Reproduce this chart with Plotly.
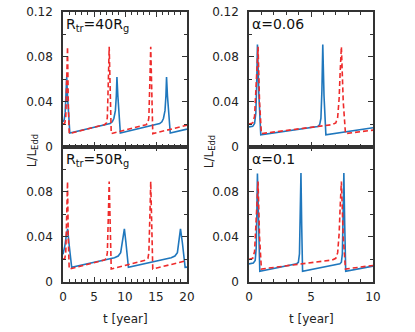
import plotly.graph_objects as go

# ---- data ----
# red dashed reference curve (same in all panels)
red_t = [0, 0.3, 0.45, 0.58, 0.73, 0.85, 1.0, 6.7, 7.0, 7.15, 7.27, 7.35, 7.45, 7.6, 7.78,
         13.4, 13.7, 13.85, 13.97, 14.05, 14.15, 14.3, 14.48, 20]
red_L = [0.020, 0.021, 0.027, 0.055, 0.089, 0.040, 0.0115, 0.0195, 0.021, 0.026, 0.043, 0.066, 0.089, 0.040, 0.0115,
         0.0195, 0.021, 0.026, 0.043, 0.066, 0.089, 0.040, 0.0115, 0.019]

# R_tr = 40 R_g
b40_t = [0, 0.2, 0.35, 0.5, 0.6, 0.7, 1.1, 7.6, 7.95, 8.2, 8.45, 8.6, 8.7, 8.85, 9.25,
         15.6, 15.95, 16.2, 16.45, 16.6, 16.7, 16.85, 17.3, 20]
b40_L = [0.022, 0.024, 0.030, 0.045, 0.062, 0.048, 0.012, 0.0205, 0.022, 0.025, 0.032, 0.045, 0.062, 0.045, 0.012,
         0.0205, 0.022, 0.025, 0.032, 0.045, 0.062, 0.045, 0.012, 0.0155]

# R_tr = 50 R_g
b50_t = [0, 0.3, 0.55, 0.75, 0.95, 1.4, 8.3, 8.9, 9.3, 9.6, 9.9, 10.15, 10.55,
         17.45, 18.05, 18.45, 18.7, 18.95, 19.25, 19.7, 20]
b50_L = [0.0245, 0.032, 0.042, 0.047, 0.035, 0.013, 0.0215, 0.023, 0.026, 0.035, 0.047, 0.035, 0.013,
         0.0215, 0.023, 0.026, 0.035, 0.047, 0.035, 0.013, 0.0132]

# alpha = 0.06
a06_t = [0, 0.3, 0.45, 0.55, 0.62, 0.68, 0.8, 0.95, 5.55, 5.7, 5.8, 5.88, 5.95, 6.05, 6.2, 10]
a06_L = [0.0175, 0.018, 0.0205, 0.030, 0.055, 0.091, 0.045, 0.0104, 0.0178, 0.0195, 0.025, 0.05, 0.091, 0.045, 0.0104, 0.0168]

# alpha = 0.1
a10_t = [0, 0.35, 0.5, 0.58, 0.63, 0.68, 0.78, 0.87, 3.85, 3.98, 4.07, 4.13, 4.19, 4.25, 4.32,
         7.33, 7.45, 7.53, 7.59, 7.65, 7.72, 7.8, 10]
a10_L = [0.016, 0.0168, 0.019, 0.03, 0.06, 0.096, 0.05, 0.0095, 0.0162, 0.0175, 0.025, 0.055, 0.0965, 0.05, 0.0095,
         0.0162, 0.0175, 0.025, 0.055, 0.0965, 0.05, 0.0095, 0.0141]

panel_labels = ["R<sub>tr</sub>=40R<sub>g</sub>", "α=0.06", "R<sub>tr</sub>=50R<sub>g</sub>", "α=0.1"]
y_ticks = [0, 0.04, 0.08, 0.12]
y_text_top = ["0", "0.04", "0.08", "0.12"]
y_text_bot = ["0", "0.04", "0.08", ""]

BLUE = "#1f77bd"
RED = "#ee2b2b"
FONT = "DejaVu Sans"
AX = "#333333"

fig = go.Figure()
panels = [
    (b40_t, b40_L, "x", "y"),
    (a06_t, a06_L, "x2", "y2"),
    (b50_t, b50_L, "x3", "y3"),
    (a10_t, a10_L, "x4", "y4"),
]
for bt, bL, xa, ya in panels:
    fig.add_trace(go.Scatter(x=bt, y=bL, mode="lines", xaxis=xa, yaxis=ya,
                             line=dict(color=BLUE, width=1.6), showlegend=False))
    fig.add_trace(go.Scatter(x=red_t, y=red_L, mode="lines", xaxis=xa, yaxis=ya,
                             line=dict(color=RED, width=1.6, dash="5px,3px"), showlegend=False))

def xax(rng, dom, anchor, labels, minor):
    return dict(range=rng, domain=dom, anchor=anchor, showline=True, linecolor=AX, linewidth=1.5,
                mirror="allticks", ticks="inside", ticklen=5, tickcolor=AX, tickwidth=1,
                dtick=5, tick0=0, showticklabels=labels, showgrid=False, zeroline=False,
                minor=dict(ticks="inside", ticklen=3, dtick=minor, tick0=0, tickcolor=AX, showgrid=False),
                ticklabelstandoff=3,
                tickfont=dict(family=FONT, size=12, color="#222"))

def yax(dom, anchor, text):
    return dict(range=[0, 0.12], domain=dom, anchor=anchor, showline=True, linecolor=AX, linewidth=1.5,
                mirror="allticks", ticks="inside", ticklen=5, tickcolor=AX, tickwidth=1,
                tickvals=y_ticks, ticktext=text, showgrid=False, zeroline=False,
                minor=dict(ticks="inside", ticklen=3, tickvals=[0.02, 0.06, 0.10], tickcolor=AX, showgrid=False),
                ticklabelstandoff=6,
                tickfont=dict(family=FONT, size=12, color="#222"))

XL = [0, 0.4]
XR = [0.6, 1.0]
YT = [0.5018, 1.0]
YB = [0.0, 0.5018]

fig.update_layout(
    width=415, height=332,
    margin=dict(l=63, r=42, t=5, b=50),
    paper_bgcolor="white", plot_bgcolor="white",
    font=dict(family=FONT, size=12, color="#222"),
    xaxis=xax([0, 20], XL, "y", False, 1),
    xaxis2=xax([0, 10], XR, "y2", False, 1),
    xaxis3=xax([0, 20], XL, "y3", True, 1),
    xaxis4=xax([0, 10], XR, "y4", True, 1),
    yaxis=yax(YT, "x", y_text_top),
    yaxis2=yax(YT, "x2", y_text_top),
    yaxis3=yax(YB, "x3", y_text_bot),
    yaxis4=yax(YB, "x4", y_text_bot),
)

# panel labels
for i, (lab, xa) in enumerate(zip(panel_labels, ["x", "x2", "x3", "x4"])):
    ya = "y" if i == 0 else "y%d" % (i + 1)
    fig.add_annotation(text=lab, xref=xa + " domain", yref=ya + " domain", x=0.01, y=0.985,
                       xanchor="left", yanchor="top", showarrow=False,
                       font=dict(family=FONT, size=14, color="#111"))

# axis titles
for xp in [-0.129, 0.474]:
    fig.add_annotation(text="L/L<sub>Edd</sub>", xref="paper", yref="paper", x=xp, y=0.484,
                       textangle=-90, showarrow=False, font=dict(family=FONT, size=12, color="#222"))
for xa in ["x3", "x4"]:
    fig.add_annotation(text="t [year]", xref=xa + " domain", yref="paper", x=0.5, y=-0.137,
                       yanchor="middle", showarrow=False, font=dict(family=FONT, size=12, color="#222"))

fig.write_html("out.html", config={"displayModeBar": False},
               post_script="document.body.style.margin='0';document.body.style.overflow='hidden';")
